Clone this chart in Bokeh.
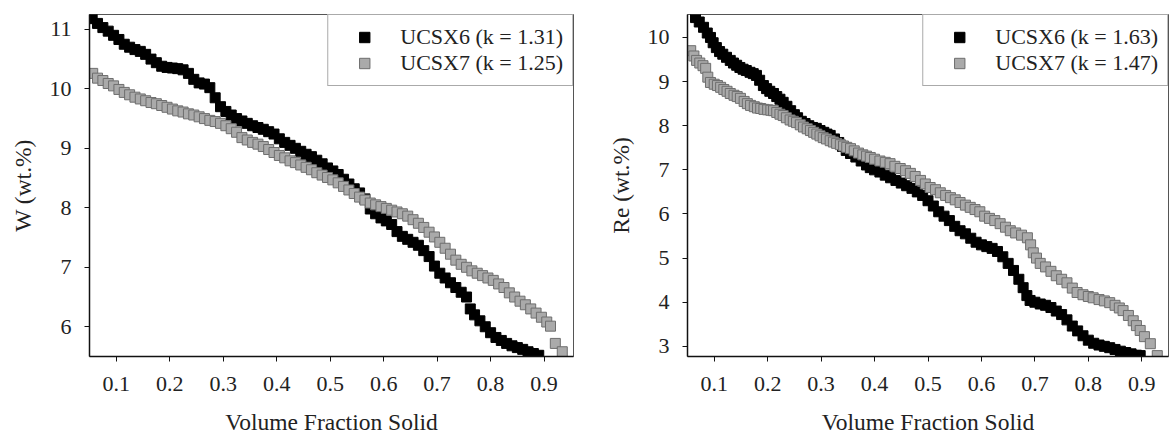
from bokeh.plotting import figure
from bokeh.layouts import row
from bokeh.models import Range1d, FixedTicker, Legend, LegendItem
from bokeh.embed import file_html
from bokeh.resources import INLINE

# ---- data ----
w6_x = [0.055, 0.065, 0.075, 0.085, 0.095, 0.105, 0.115, 0.125, 0.135, 0.145, 0.155, 0.165, 0.175, 0.185,
        0.195, 0.205, 0.215, 0.225, 0.235, 0.245, 0.255, 0.265, 0.275, 0.285, 0.295, 0.305, 0.315, 0.325,
        0.335, 0.345, 0.355, 0.365, 0.375, 0.385, 0.395, 0.405, 0.415, 0.425, 0.435, 0.445, 0.455, 0.465,
        0.475, 0.485, 0.495, 0.505, 0.515, 0.525, 0.535, 0.545, 0.555, 0.565, 0.575, 0.585, 0.595, 0.605,
        0.615, 0.625, 0.635, 0.645, 0.655, 0.665, 0.675, 0.685, 0.695, 0.705, 0.715, 0.725, 0.735, 0.745,
        0.755, 0.762, 0.77, 0.78, 0.79, 0.80, 0.81, 0.82, 0.83, 0.84, 0.85, 0.86, 0.87, 0.88, 0.89]
w6_y = [11.18, 11.10, 11.03, 10.97, 10.90, 10.83, 10.75, 10.70, 10.66, 10.63, 10.58, 10.50, 10.44, 10.38,
        10.36, 10.35, 10.34, 10.32, 10.26, 10.16, 10.10, 10.08, 10.02, 9.85, 9.70, 9.62, 9.56, 9.50,
        9.46, 9.42, 9.38, 9.35, 9.32, 9.28, 9.24, 9.16, 9.10, 9.05, 9.00, 8.95, 8.90, 8.86,
        8.80, 8.74, 8.67, 8.62, 8.56, 8.48, 8.40, 8.32, 8.25, 8.15, 7.98, 7.90, 7.83, 7.78,
        7.72, 7.60, 7.52, 7.47, 7.42, 7.37, 7.28, 7.18, 7.02, 6.90, 6.82, 6.74, 6.66, 6.58,
        6.50, 6.30, 6.20, 6.10, 6.00, 5.90, 5.82, 5.77, 5.72, 5.68, 5.65, 5.62, 5.58, 5.55, 5.52]

w7_x = [0.056, 0.065, 0.075, 0.085, 0.095, 0.105, 0.115, 0.125, 0.135, 0.145, 0.155, 0.165, 0.175, 0.185,
        0.195, 0.205, 0.215, 0.225, 0.235, 0.245, 0.255, 0.265, 0.275, 0.285, 0.295, 0.305, 0.315, 0.325,
        0.335, 0.345, 0.355, 0.365, 0.375, 0.385, 0.395, 0.405, 0.415, 0.425, 0.435, 0.445, 0.455, 0.465,
        0.475, 0.485, 0.495, 0.505, 0.515, 0.525, 0.535, 0.545, 0.555, 0.565, 0.575, 0.585, 0.595, 0.605,
        0.615, 0.625, 0.635, 0.645, 0.655, 0.665, 0.675, 0.685, 0.695, 0.705, 0.715, 0.725, 0.735, 0.745,
        0.755, 0.765, 0.775, 0.785, 0.795, 0.805, 0.815, 0.825, 0.835, 0.845, 0.855, 0.865, 0.875, 0.885,
        0.895, 0.905, 0.912, 0.921, 0.934]
w7_y = [10.26, 10.18, 10.14, 10.09, 10.05, 9.99, 9.94, 9.90, 9.86, 9.83, 9.80, 9.77, 9.75, 9.72,
        9.69, 9.66, 9.63, 9.61, 9.58, 9.56, 9.53, 9.50, 9.47, 9.45, 9.42, 9.38, 9.33, 9.27,
        9.18, 9.14, 9.10, 9.07, 9.03, 8.98, 8.93, 8.88, 8.84, 8.79, 8.76, 8.72, 8.68, 8.64,
        8.59, 8.55, 8.51, 8.47, 8.42, 8.36, 8.30, 8.24, 8.18, 8.13, 8.08, 8.05, 8.02, 7.99,
        7.96, 7.93, 7.90, 7.86, 7.80, 7.74, 7.67, 7.59, 7.51, 7.42, 7.32, 7.22, 7.12, 7.05,
        7.00, 6.94, 6.90, 6.86, 6.82, 6.78, 6.72, 6.66, 6.57, 6.50, 6.43, 6.37, 6.30, 6.23,
        6.16, 6.08, 6.01, 5.72, 5.58]

re6_x = [0.065, 0.072, 0.08, 0.087, 0.093, 0.098, 0.104, 0.11, 0.116, 0.123, 0.13, 0.136, 0.142, 0.148,
         0.154, 0.16, 0.167, 0.173, 0.179, 0.185, 0.192, 0.198, 0.204, 0.211, 0.217, 0.223, 0.229, 0.236,
         0.243, 0.25, 0.256, 0.263, 0.27, 0.277, 0.284, 0.291, 0.298, 0.305, 0.311, 0.317, 0.325, 0.333,
         0.34, 0.347, 0.355, 0.365, 0.375, 0.385, 0.392, 0.40, 0.41, 0.42, 0.43, 0.44, 0.45, 0.46,
         0.47, 0.48, 0.49, 0.50, 0.51, 0.52, 0.53, 0.54, 0.55, 0.56, 0.57, 0.58, 0.59, 0.60,
         0.61, 0.62, 0.63, 0.64, 0.65, 0.66, 0.67, 0.678, 0.685, 0.691, 0.70, 0.71, 0.72, 0.73,
         0.74, 0.75, 0.76, 0.77, 0.78, 0.79, 0.80, 0.81, 0.82, 0.83, 0.84, 0.85, 0.86, 0.87,
         0.88, 0.89, 0.897]
re6_y = [10.45, 10.35, 10.23, 10.10, 10.00, 9.88, 9.77, 9.68, 9.62, 9.55, 9.48, 9.42, 9.37, 9.32,
         9.28, 9.25, 9.21, 9.18, 9.14, 9.03, 8.91, 8.84, 8.78, 8.73, 8.66, 8.60, 8.53, 8.44,
         8.34, 8.25, 8.18, 8.10, 8.05, 8.00, 7.96, 7.94, 7.89, 7.85, 7.81, 7.78, 7.70, 7.62,
         7.53, 7.44, 7.37, 7.29, 7.20, 7.11, 7.05, 7.00, 6.95, 6.88, 6.82, 6.76, 6.70, 6.64,
         6.58, 6.50, 6.42, 6.30, 6.18, 6.05, 5.95, 5.85, 5.72, 5.62, 5.55, 5.45, 5.36, 5.30,
         5.26, 5.22, 5.15, 5.03, 4.88, 4.72, 4.52, 4.33, 4.15, 4.04, 4.00, 3.96, 3.93, 3.88,
         3.80, 3.72, 3.60, 3.46, 3.35, 3.24, 3.14, 3.07, 3.03, 3.00, 2.97, 2.93, 2.89, 2.86,
         2.83, 2.80, 2.79]

re7_x = [0.056, 0.062, 0.067, 0.073, 0.079, 0.084, 0.088, 0.093, 0.10, 0.106, 0.112, 0.118, 0.124, 0.13,
         0.137, 0.143, 0.149, 0.156, 0.162, 0.168, 0.175, 0.181, 0.187, 0.193, 0.20, 0.206, 0.211, 0.217,
         0.223, 0.229, 0.235, 0.242, 0.248, 0.254, 0.261, 0.267, 0.274, 0.28, 0.286, 0.292, 0.298, 0.304,
         0.31, 0.317, 0.323, 0.329, 0.336, 0.342, 0.348, 0.355, 0.362, 0.37, 0.378, 0.385, 0.392, 0.40,
         0.41, 0.42, 0.429, 0.438, 0.448, 0.458, 0.467, 0.476, 0.486, 0.495, 0.504, 0.514, 0.523, 0.533,
         0.542, 0.551, 0.56, 0.57, 0.579, 0.588, 0.597, 0.606, 0.615, 0.625, 0.635, 0.645, 0.654, 0.664,
         0.675, 0.686, 0.692, 0.697, 0.703, 0.71, 0.72, 0.73, 0.74, 0.75, 0.76, 0.77, 0.779, 0.79,
         0.80, 0.809, 0.82, 0.83, 0.84, 0.85, 0.858, 0.865, 0.875, 0.884, 0.89, 0.897, 0.905, 0.916,
         0.929]
re7_y = [9.70, 9.58, 9.48, 9.42, 9.36, 9.30, 9.10, 8.98, 8.94, 8.91, 8.87, 8.82, 8.78, 8.73,
         8.69, 8.66, 8.62, 8.55, 8.50, 8.46, 8.43, 8.40, 8.39, 8.37, 8.36, 8.35, 8.34, 8.30,
         8.26, 8.23, 8.18, 8.13, 8.10, 8.07, 8.02, 7.97, 7.93, 7.89, 7.85, 7.81, 7.77, 7.73,
         7.70, 7.66, 7.63, 7.60, 7.57, 7.54, 7.51, 7.48, 7.43, 7.38, 7.34, 7.31, 7.28, 7.24,
         7.20, 7.17, 7.14, 7.08, 7.03, 6.98, 6.92, 6.85, 6.76, 6.68, 6.60, 6.55, 6.48, 6.42,
         6.37, 6.32, 6.26, 6.20, 6.15, 6.10, 6.05, 5.95, 5.90, 5.85, 5.78, 5.70, 5.62, 5.57,
         5.52, 5.46, 5.30, 5.12, 5.00, 4.88, 4.80, 4.70, 4.60, 4.52, 4.44, 4.32, 4.22, 4.17,
         4.13, 4.10, 4.06, 4.03, 3.99, 3.93, 3.87, 3.81, 3.70, 3.58, 3.47, 3.36, 3.22, 3.06,
         2.79]

x_ticks = [0.1, 0.2, 0.3, 0.4, 0.5, 0.6, 0.7, 0.8, 0.9]
w_ticks = [6, 7, 8, 9, 10, 11]
re_ticks = [3, 4, 5, 6, 7, 8, 9, 10]
x_label = "Volume Fraction Solid"
w_label = "W (wt.%)"
re_label = "Re (wt.%)"
w_names = ["UCSX6 (k = 1.31)", "UCSX7 (k = 1.25)"]
re_names = ["UCSX6 (k = 1.63)", "UCSX7 (k = 1.47)"]

FONT = "'Liberation Serif', 'Times New Roman', serif"
TXT = "#222222"
BLACK = "#000000"
GREY_FILL = "#aaaaaa"
GREY_LINE = "#6e6e6e"


def style_axis(ax):
    ax.axis_line_color = "#111111"
    ax.axis_line_width = 1.5
    ax.major_tick_line_color = "#111111"
    ax.major_tick_line_width = 1
    ax.major_tick_out = 5
    ax.major_tick_in = 0
    ax.minor_tick_line_color = None
    ax.major_label_text_font = FONT
    ax.major_label_text_font_size = "22px"
    ax.major_label_text_color = TXT
    ax.axis_label_text_font = FONT
    ax.axis_label_text_font_size = "23.5px"
    ax.axis_label_text_font_style = "normal"
    ax.axis_label_text_color = TXT


def make_panel(width, height, xr, yr, yticks, ylabel, s6, s7, names, bl, br):
    p = figure(width=width, height=height, output_backend="svg", toolbar_location=None,
               x_range=Range1d(*xr), y_range=Range1d(*yr),
               min_border_left=bl, min_border_right=br, min_border_top=14, min_border_bottom=81)
    p.grid.visible = False
    p.outline_line_color = "#555555"
    p.outline_line_width = 1
    p.background_fill_color = "white"
    p.border_fill_color = "white"

    r6 = p.scatter(s6[0], s6[1], marker="square", size=10, fill_color=BLACK, line_color=BLACK)
    r7 = p.scatter(s7[0], s7[1], marker="square", size=10, fill_color=GREY_FILL,
                   line_color=GREY_LINE, line_width=1)

    p.xaxis.ticker = FixedTicker(ticks=x_ticks)
    p.yaxis.ticker = FixedTicker(ticks=yticks)
    p.xaxis.axis_label = x_label
    p.yaxis.axis_label = ylabel
    style_axis(p.xaxis[0])
    style_axis(p.yaxis[0])
    p.xaxis.major_label_standoff = 15
    p.xaxis.axis_label_standoff = 15
    p.yaxis.major_label_standoff = 13
    p.yaxis.axis_label_standoff = 11

    legend = Legend(items=[LegendItem(label=names[0], renderers=[r6]),
                           LegendItem(label=names[1], renderers=[r7])],
                    location="top_right", margin=0, padding=9, spacing=0,
                    glyph_width=54, glyph_height=26, label_height=26, label_standoff=9,
                    label_text_font=FONT, label_text_font_size="22px", label_text_color=TXT,
                    border_line_color="#555555", border_line_width=1,
                    background_fill_color="white", background_fill_alpha=1.0)
    p.add_layout(legend, "center")
    return p


p1 = make_panel(583, 437, (0.05, 0.955), (5.5, 11.25), w_ticks, w_label,
                (w6_x, w6_y), (w7_x, w7_y), w_names, 89, 10)
p2 = make_panel(586, 437, (0.05, 0.95), (2.77, 10.52), re_ticks, re_label,
                (re6_x, re6_y), (re7_x, re7_y), re_names, 104, 1)

layout = row(p1, p2)
open("out.html", "w").write(file_html(layout, INLINE))
